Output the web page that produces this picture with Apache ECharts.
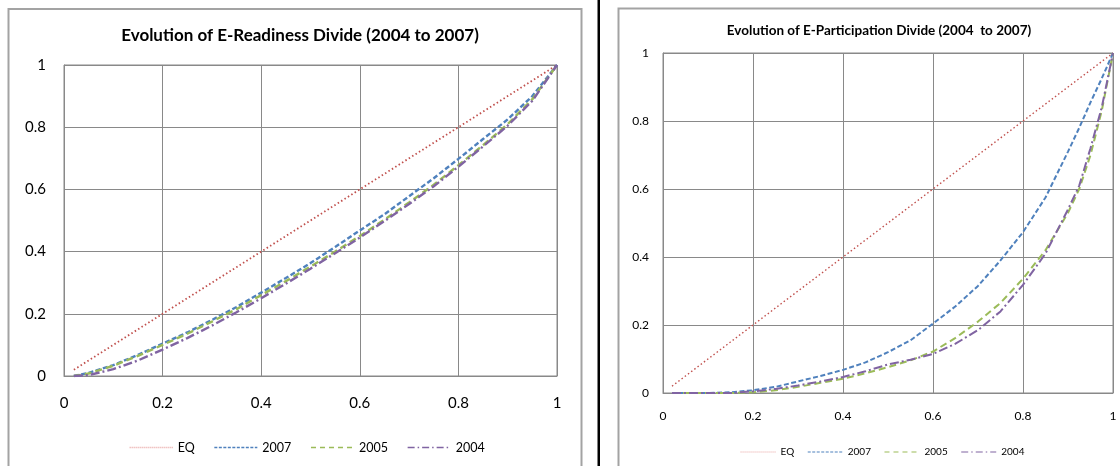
<!DOCTYPE html>
<html>
<head>
<meta charset="utf-8">
<script src="https://cdn.jsdelivr.net/npm/echarts@6/dist/echarts.min.js"></script>
<style>
  html, body { margin: 0; padding: 0; background: #fff; }
  #chart { width: 1120px; height: 466px; }
</style>
</head>
<body>
<div id="chart"></div>
<script>
// ---- Data ----
var seriesNames = ['EQ', '2007', '2005', '2004'];
var axisTicks = [0, 0.2, 0.4, 0.6, 0.8, 1];

// Left chart: E-Readiness
var xLeft = [0.02, 0.05, 0.1, 0.15, 0.2, 0.25, 0.3, 0.35, 0.4, 0.45, 0.5, 0.55, 0.6, 0.65, 0.7, 0.75, 0.8, 0.85, 0.9, 0.95, 1];
var eqLeft = [0.02, 0.05, 0.1, 0.15, 0.2, 0.25, 0.3, 0.35, 0.4, 0.45, 0.5, 0.55, 0.6, 0.65, 0.7, 0.75, 0.8, 0.85, 0.9, 0.95, 1];
var readiness2007 = [0, 0.01, 0.035, 0.068, 0.104, 0.14, 0.18, 0.222, 0.268, 0.315, 0.363, 0.415, 0.468, 0.52, 0.578, 0.636, 0.698, 0.762, 0.825, 0.9, 1];
var readiness2005 = [0, 0.008, 0.033, 0.065, 0.1, 0.136, 0.175, 0.215, 0.26, 0.305, 0.352, 0.4, 0.45, 0.503, 0.558, 0.615, 0.678, 0.742, 0.81, 0.89, 1];
var readiness2004 = [0, 0.003, 0.022, 0.05, 0.085, 0.122, 0.162, 0.205, 0.25, 0.297, 0.345, 0.395, 0.445, 0.498, 0.553, 0.61, 0.673, 0.738, 0.805, 0.885, 1];

// Right chart: E-Participation
var xRight = [0.02, 0.05, 0.1, 0.15, 0.2, 0.25, 0.3, 0.35, 0.4, 0.45, 0.5, 0.55, 0.6, 0.65, 0.7, 0.75, 0.8, 0.85, 0.9, 0.925, 0.95, 0.975, 1];
var eqRight = [0.02, 0.05, 0.1, 0.15, 0.2, 0.25, 0.3, 0.35, 0.4, 0.45, 0.5, 0.55, 0.6, 0.65, 0.7, 0.75, 0.8, 0.85, 0.9, 0.925, 0.95, 0.975, 1];
var participation2007 = [0, 0, 0, 0.002, 0.008, 0.018, 0.034, 0.05, 0.068, 0.09, 0.12, 0.155, 0.204, 0.255, 0.315, 0.39, 0.473, 0.575, 0.71, 0.78, 0.855, 0.925, 1];
var participation2005 = [0, 0, 0, 0, 0.002, 0.008, 0.018, 0.03, 0.042, 0.058, 0.076, 0.096, 0.122, 0.162, 0.21, 0.265, 0.336, 0.42, 0.53, 0.6, 0.7, 0.83, 1];
var participation2004 = [0, 0, 0, 0, 0.005, 0.012, 0.022, 0.034, 0.047, 0.064, 0.084, 0.098, 0.115, 0.145, 0.185, 0.24, 0.318, 0.41, 0.54, 0.61, 0.72, 0.84, 1];

var leftTitle = 'Evolution of E-Readiness Divide (2004 to 2007)';
var rightTitle = 'Evolution of E-Participation Divide (2004  to 2007)';

// ---- Build ----
function pairs(xs, ys) { return xs.map(function (x, i) { return [x, ys[i]]; }); }

var FONT = 'Lato';
var GRIDC = '#898989';
var colors = { 'EQ': '#C0504D', '2007': '#4F81BD', '2005': '#9BBB59', '2004': '#8064A2' };
var dashes = { 'EQ': [1.5, 2.5], '2007': [5, 2.5], '2005': [7, 4], '2004': [9, 3, 2, 3] };
var legendDashes = { 'EQ': [1, 1], '2007': [3, 1.5], '2005': [5, 4], '2004': [7, 3, 1.5, 3] };
var legendColors = { 'EQ': '#e8a4a2', '2007': '#4F81BD', '2005': '#9BBB59', '2004': '#8064A2' };

function mkSeries(name, data, idx, width) {
  return {
    name: name, type: 'line', xAxisIndex: idx, yAxisIndex: idx,
    data: data, showSymbol: false, symbol: 'none', smooth: false,
    lineStyle: { color: colors[name], width: name === 'EQ' ? (width - 0.6) : width, type: dashes[name] },
    itemStyle: { color: colors[name] },
    animation: false
  };
}

function mkAxis(idx, fontSize, margin) {
  return {
    gridIndex: idx, type: 'value', min: 0, max: 1, interval: 0.2,
    axisLine: { show: true, lineStyle: { color: GRIDC, width: 1 } },
    axisTick: { show: false },
    splitLine: { show: true, lineStyle: { color: GRIDC, width: 1 } },
    axisLabel: { margin: margin, fontSize: fontSize, color: '#000', fontFamily: FONT,
      formatter: function (v) { return String(Math.round(v * 10) / 10); } }
  };
}

function legendData(width) {
  return seriesNames.map(function (n) {
    return { name: n, icon: 'inherit', itemStyle: { opacity: 0 },
      lineStyle: { color: legendColors[n], width: width, type: legendDashes[n] } };
  });
}

var chart = echarts.init(document.getElementById('chart'), null, { renderer: 'canvas' });
chart.setOption({
  backgroundColor: '#fff',
  animation: false,
  title: [
    { text: leftTitle, left: 295, top: 22, textAlign: 'center',
      textStyle: { fontFamily: FONT, fontWeight: 'bold', fontSize: 17, color: '#000' } },
    { text: rightTitle, left: 874, top: 19, textAlign: 'center',
      textStyle: { fontFamily: FONT, fontWeight: 'bold', fontSize: 13.5, color: '#000' } }
  ],
  legend: [
    { data: legendData(1.3), left: 124, top: 436, itemWidth: 43, itemHeight: 14, itemGap: 19, icon: 'inherit',
      itemStyle: { opacity: 0 },
      textStyle: { fontFamily: FONT, fontSize: 12.5, color: '#000' }, selectedMode: false },
    { data: legendData(1.1), left: 735, top: 442, itemWidth: 35, itemHeight: 12, itemGap: 13, icon: 'inherit',
      itemStyle: { opacity: 0 },
      textStyle: { fontFamily: FONT, fontSize: 10, color: '#000' }, selectedMode: false }
  ],
  grid: [
    { left: 64, top: 65, width: 493, height: 311, show: true, borderColor: GRIDC, borderWidth: 1, backgroundColor: '#fff' },
    { left: 663, top: 53, width: 450, height: 340, show: true, borderColor: GRIDC, borderWidth: 1, backgroundColor: '#fff' }
  ],
  xAxis: [ mkAxis(0, 15, 20), mkAxis(1, 12, 17) ],
  yAxis: [ mkAxis(0, 15, 18), mkAxis(1, 12, 14) ],
  series: [
    mkSeries('EQ', pairs(xLeft, eqLeft), 0, 2.4),
    mkSeries('2007', pairs(xLeft, readiness2007), 0, 2.4),
    mkSeries('2005', pairs(xLeft, readiness2005), 0, 2.4),
    mkSeries('2004', pairs(xLeft, readiness2004), 0, 2.4),
    mkSeries('EQ', pairs(xRight, eqRight), 1, 2),
    mkSeries('2007', pairs(xRight, participation2007), 1, 2),
    mkSeries('2005', pairs(xRight, participation2005), 1, 2),
    mkSeries('2004', pairs(xRight, participation2004), 1, 2)
  ],
  graphic: [
    { type: 'rect', silent: true, z: -10, shape: { x: 8.5, y: 9, width: 573, height: 480 },
      style: { fill: 'none', stroke: '#a3a3a3', lineWidth: 2 } },
    { type: 'rect', silent: true, z: -10, shape: { x: 618.5, y: 8.5, width: 540, height: 480 },
      style: { fill: 'none', stroke: '#a3a3a3', lineWidth: 2 } },
    { type: 'rect', silent: true, z: 10, shape: { x: 597.5, y: 0, width: 2.5, height: 466 },
      style: { fill: '#000' } }
  ]
});
</script>
</body>
</html>
